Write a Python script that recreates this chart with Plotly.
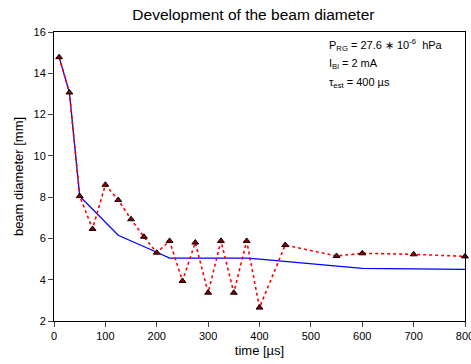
import plotly.graph_objects as go

time_meas = [10, 30, 50, 75, 100, 125, 150, 175, 200, 225, 250, 275, 300, 325, 350, 375, 400, 450, 550, 600, 700, 800]
diam_meas = [14.78, 13.07, 8.05, 6.46, 8.6, 7.86, 6.93, 6.08, 5.31, 5.88, 3.94, 5.8, 3.37, 5.88, 3.37, 5.88, 2.65, 5.68, 5.15, 5.28, 5.23, 5.13]

time_model = [10, 30, 50, 125, 200, 225, 375, 400, 600, 800]
diam_model = [14.78, 13.07, 8.05, 6.15, 5.33, 5.05, 5.05, 5.0, 4.55, 4.5]

x_ticks = [0, 100, 200, 300, 400, 500, 600, 700, 800]
y_ticks = [2, 4, 6, 8, 10, 12, 14, 16]

fig = go.Figure()
fig.add_trace(go.Scatter(x=time_model, y=diam_model, mode="lines",
                         line=dict(color="#0000ff", width=1.3), showlegend=False,
                         cliponaxis=False))
fig.add_trace(go.Scatter(x=time_meas, y=diam_meas, mode="lines+markers",
                         line=dict(color="#ff0000", width=1.6, dash="dot"),
                         marker=dict(symbol="triangle-up", size=6, color="#8b0000",
                                     line=dict(color="black", width=1)),
                         showlegend=False, cliponaxis=False))

font = "Liberation Sans, Arial, sans-serif"
fig.update_layout(
    width=471, height=364,
    margin=dict(l=54, r=6, t=32, b=43),
    paper_bgcolor="white", plot_bgcolor="white",
    font=dict(family=font, size=11, color="black"),
    title=dict(text="Development of the beam diameter", x=0.538, xanchor="center",
               y=0.96, yanchor="middle", font=dict(size=15.5, family=font)),
    xaxis=dict(range=[0, 800], tickvals=x_ticks, ticks="outside", ticklen=5,
               ticklabeloverflow="allow", automargin=False,
               showgrid=False, zeroline=False, showline=True, linecolor="black",
               linewidth=1, mirror=True, title=dict(text="time [µs]", standoff=4)),
    yaxis=dict(range=[2, 16], tickvals=y_ticks, ticks="outside", ticklen=5,
               automargin=False,
               showgrid=False, zeroline=False, showline=True, linecolor="black",
               linewidth=1, mirror=True, title=dict(text="beam diameter [mm]", standoff=6)),
    annotations=[
        dict(x=0.665, y=0.955, xref="paper", yref="paper", xanchor="left", yanchor="middle",
             showarrow=False, align="left",
             text="P<sub>RG</sub> = 27.6 ∗ 10<sup>-6</sup>  hPa", font=dict(size=11)),
        dict(x=0.665, y=0.89, xref="paper", yref="paper", xanchor="left", yanchor="middle",
             showarrow=False, align="left",
             text="I<sub>Bl</sub> = 2 mA", font=dict(size=11)),
        dict(x=0.665, y=0.825, xref="paper", yref="paper", xanchor="left", yanchor="middle",
             showarrow=False, align="left",
             text="τ<sub>est</sub> = 400 µs", font=dict(size=11)),
    ],
)

fig.write_html("out.html", config={"displayModeBar": False},
               post_script="document.body.style.margin='0';document.body.style.overflow='hidden';")
